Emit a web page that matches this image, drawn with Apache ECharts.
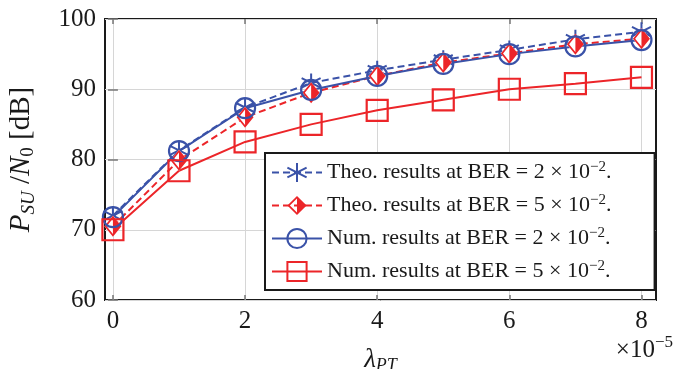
<!DOCTYPE html>
<html>
<head>
<meta charset="utf-8">
<script src="https://cdn.jsdelivr.net/npm/echarts@6/dist/echarts.min.js"></script>
<style>
  html, body { margin: 0; padding: 0; background: #fff; }
  #chart { width: 674px; height: 369px; }
</style>
</head>
<body>
<div id="chart"></div>
<script>
  // data
  const lambdaPT = [0, 1, 2, 3, 4, 5, 6, 7, 8]
  const theo2 = [72.0, 81.3, 87.4, 90.9, 92.7, 94.2, 95.6, 97.1, 98.2]
  const theo5 = [70.5, 79.9, 86.0, 89.5, 91.9, 93.8, 95.1, 96.4, 97.2]
  const num2 = [71.8, 81.2, 87.3, 89.9, 91.9, 93.6, 95.0, 96.1, 97.0]
  const num5 = [70.0, 78.4, 82.5, 85.0, 87.0, 88.5, 90.0, 90.8, 91.7]
  const xTicks = [0, 2, 4, 6, 8]
  const yTicks = [60, 70, 80, 90, 100]
  const legendKinds = ['Theo.', 'Theo.', 'Num.', 'Num.']
  const legendBer = ['2', '5', '2', '5']

  const BLUE = '#3a52a8'
  const RED = '#ec2529'
  const INK = '#1a1a1a'
  const FONT = 'Liberation Serif'

  // markers
  const starPath = 'path://M10,0L10,20M1.34,5L18.66,15M1.34,15L18.66,5'
  const halfDiamond = 'path://M10,0L20,10L10,20L0,10ZM10,2.6L2.6,10L10,17.4L17.4,10ZM10,2.6L17.4,10L10,17.4Z'

  const pairs = (ys) => lambdaPT.map((x, i) => [x, ys[i]])
  const names = legendKinds.map((k, i) => k + ' ' + legendBer[i])

  const mChart = echarts.init(document.getElementById('chart'))

  const tickStyle = { show: true, inside: true, length: 5, lineStyle: { color: '#777', width: 1.5 } }

  const option = {
    animation: false,
    grid: {
      left: 105, right: 18, top: 19, bottom: 69,
      outerBoundsMode: 'none', containLabel: false,
      show: true, borderColor: INK, borderWidth: 2
    },
    legend: {
      orient: 'vertical',
      left: 265, top: 153,
      data: names,
      backgroundColor: '#fff',
      borderColor: INK, borderWidth: 2,
      padding: [7, 43, 6, 6],
      itemWidth: 50, itemHeight: 24, itemGap: 8,
      formatter: (name) => {
        const i = names.indexOf(name)
        return legendKinds[i] + ' results at BER = ' + legendBer[i] + ' × 10{sup|−2}.'
      },
      textStyle: {
        fontFamily: FONT, fontSize: 22, lineHeight: 24, color: INK,
        rich: { sup: { fontFamily: FONT, fontSize: 15, lineHeight: 14, padding: [0, 0, 10, 0], color: INK } }
      }
    },
    xAxis: [{
      type: 'value', min: -0.12, max: 8.22, splitNumber: 4,
      axisLine: { show: false },
      axisTick: Object.assign({ customValues: xTicks }, tickStyle),
      axisLabel: { customValues: xTicks, fontFamily: FONT, fontSize: 25, color: INK, margin: 9 },
      splitLine: { show: true, lineStyle: { color: '#d6d6d6', width: 1 } },
      name: '{m|λ}{s|PT}', nameLocation: 'middle', nameGap: 44,
      nameTextStyle: {
        rich: {
          m: { fontFamily: FONT, fontStyle: 'italic', fontSize: 27, color: INK },
          s: { fontFamily: FONT, fontStyle: 'italic', fontSize: 18, padding: [13, 0, 0, 0], color: INK }
        }
      }
    }, {
      type: 'value', position: 'top', min: -0.12, max: 8.22,
      axisLine: { show: false },
      axisTick: Object.assign({ customValues: xTicks }, tickStyle),
      axisLabel: { show: false },
      splitLine: { show: false }
    }],
    yAxis: [{
      type: 'value', min: yTicks[0], max: yTicks[yTicks.length - 1], interval: 10,
      axisLine: { show: false },
      axisTick: tickStyle,
      axisLabel: { fontFamily: FONT, fontSize: 25, color: INK, margin: 9 },
      splitLine: { show: true, lineStyle: { color: '#d6d6d6', width: 1 } },
      name: '{m|P}{s|SU}{r| /}{m|N}{z|0}{r| [dB]}', nameLocation: 'middle', nameGap: 67, nameRotate: 90,
      nameTextStyle: {
        rich: {
          m: { fontFamily: FONT, fontStyle: 'italic', fontSize: 29, color: INK },
          s: { fontFamily: FONT, fontStyle: 'italic', fontSize: 19, padding: [14, 0, 0, 0], color: INK },
          z: { fontFamily: FONT, fontSize: 19, padding: [14, 0, 0, 0], color: INK },
          r: { fontFamily: FONT, fontSize: 29, color: INK }
        }
      }
    }, {
      type: 'value', position: 'right', min: yTicks[0], max: yTicks[yTicks.length - 1], interval: 10,
      axisLine: { show: false },
      axisTick: tickStyle,
      axisLabel: { show: false },
      splitLine: { show: false }
    }],
    graphic: [{
      type: 'text', right: 1, top: 334,
      style: {
        text: '×10{sup|−5}',
        fontFamily: FONT, fontSize: 25, fill: INK,
        rich: { sup: { fontFamily: FONT, fontSize: 17, padding: [0, 0, 15, 0], fill: INK } }
      }
    }],
    series: [{
      name: names[0], type: 'line', data: pairs(theo2),
      symbol: starPath, symbolSize: 19,
      itemStyle: { color: 'none', borderColor: BLUE, borderWidth: 2 },
      lineStyle: { color: BLUE, width: 2, type: [7, 4] }
    }, {
      // white body under the half-filled diamonds
      name: 'diamond-fill', type: 'line', data: pairs(theo5),
      symbol: 'diamond', symbolSize: [17, 21], silent: true,
      itemStyle: { color: '#fff', borderWidth: 0 },
      lineStyle: { opacity: 0 }
    }, {
      name: names[1], type: 'line', data: pairs(theo5),
      symbol: halfDiamond, symbolSize: [17, 21],
      itemStyle: { color: RED, borderWidth: 0 },
      lineStyle: { color: RED, width: 2, type: [7, 4] }
    }, {
      name: names[2], type: 'line', data: pairs(num2),
      symbol: 'circle', symbolSize: 20,
      itemStyle: { color: 'none', borderColor: BLUE, borderWidth: 2.2 },
      lineStyle: { color: BLUE, width: 2 }
    }, {
      name: names[3], type: 'line', data: pairs(num5),
      symbol: 'rect', symbolSize: 21,
      itemStyle: { color: 'none', borderColor: RED, borderWidth: 2.2 },
      lineStyle: { color: RED, width: 2 }
    }]
  }

  mChart.setOption(option)
</script>
</body>
</html>
